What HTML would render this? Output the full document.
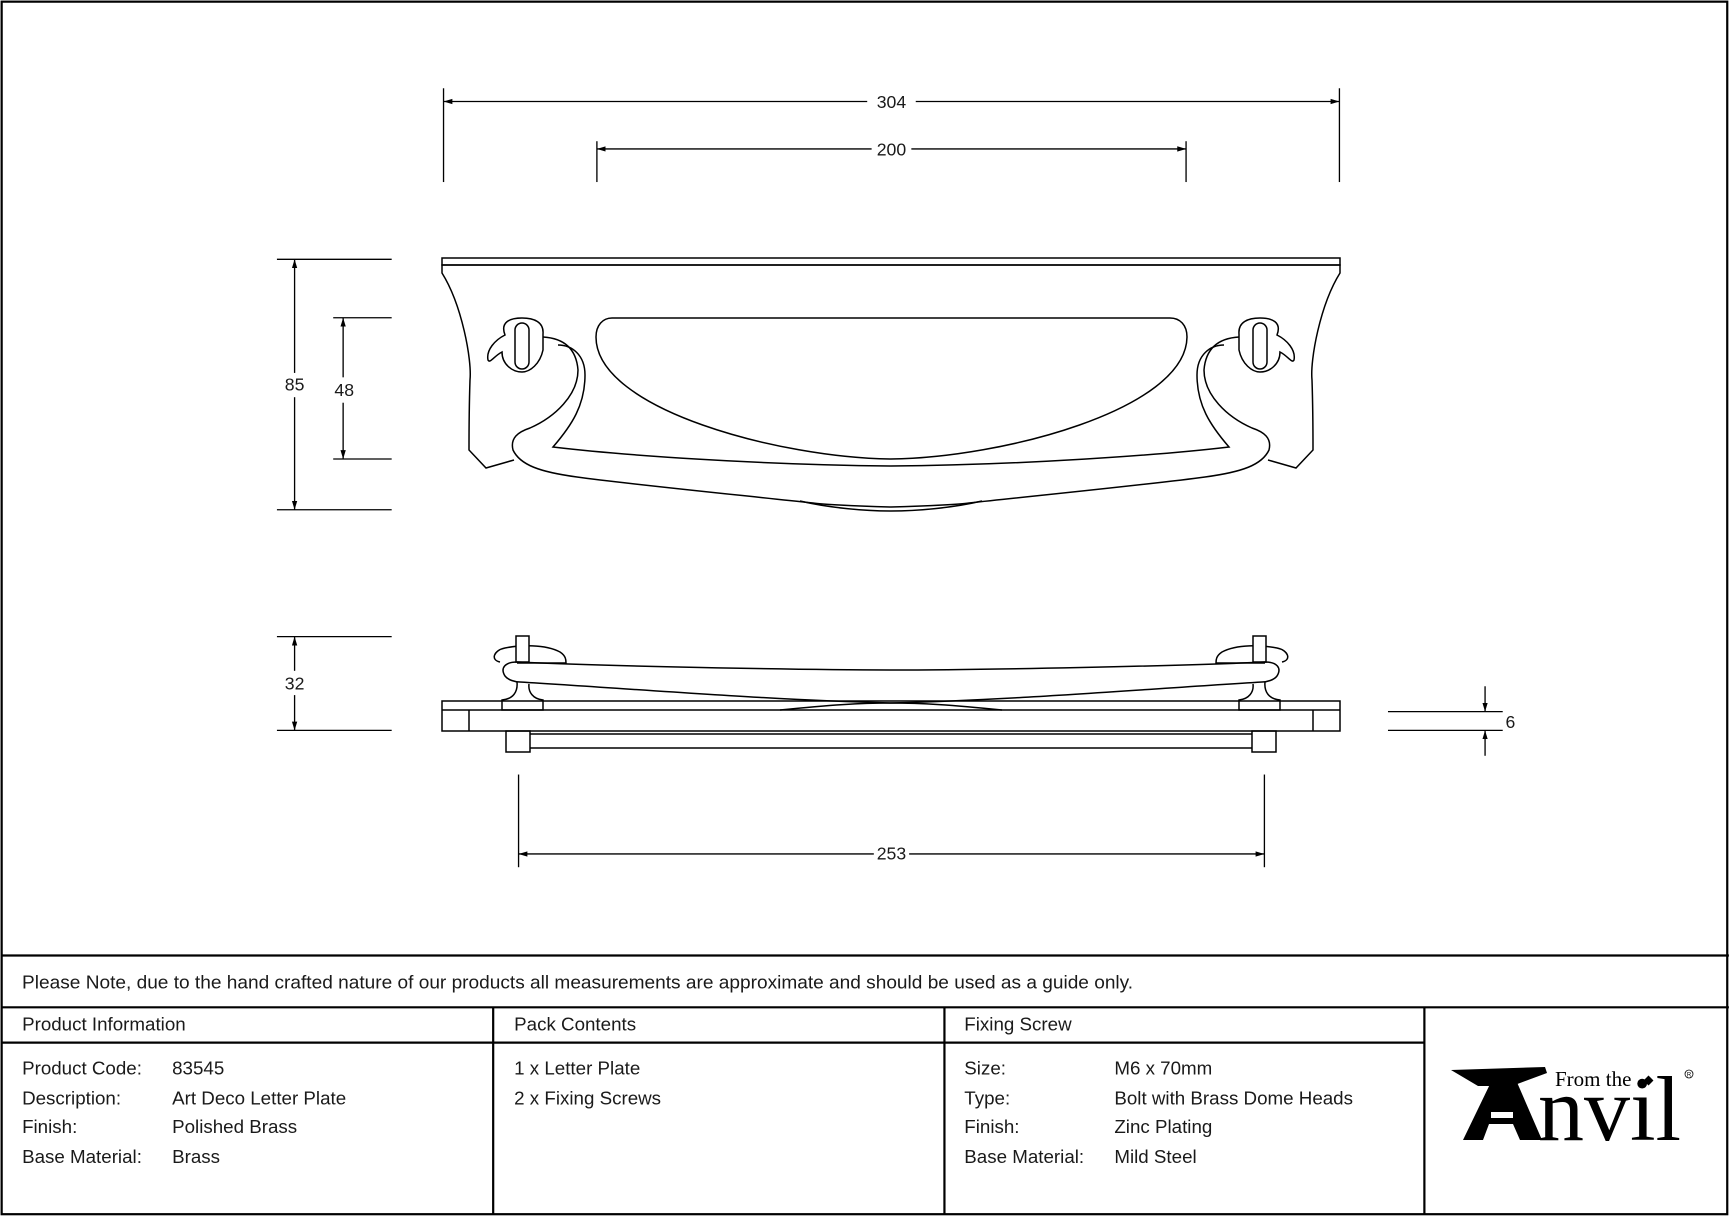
<!DOCTYPE html>
<html><head><meta charset="utf-8"><style>
html,body{margin:0;padding:0;background:#fff;}
svg{display:block;}
text{font-family:"Liberation Sans",sans-serif;fill:#1a1a1a;}
</style></head><body>
<svg width="1730" height="1217" viewBox="0 0 1730 1217" xmlns="http://www.w3.org/2000/svg">
<defs>
<marker id="ar" viewBox="0 0 10 10" refX="10" refY="5" markerWidth="8" markerHeight="8" orient="auto-start-reverse" markerUnits="userSpaceOnUse"><path d="M0,2 L10,5 L0,8 z" fill="#000"/></marker>
</defs>
<rect width="1730" height="1217" fill="#fff"/>
<g transform="scale(1.10332)" stroke="#000" fill="none" stroke-width="1.2">
 <rect x="1.5" y="1.5" width="1564" height="1099" stroke-width="2"/>
 <line x1="1" y1="866" x2="1567" y2="866" stroke-width="2"/>
 <line x1="1" y1="913" x2="1567" y2="913" stroke-width="2"/>
 <line x1="1" y1="945" x2="1291" y2="945" stroke-width="2"/>
 <line x1="447" y1="913" x2="447" y2="1101" stroke-width="2"/>
 <line x1="856" y1="913" x2="856" y2="1101" stroke-width="2"/>
 <line x1="1291" y1="913" x2="1291" y2="1101" stroke-width="2"/>
 <line x1="402" y1="80" x2="402" y2="165"/><line x1="1214" y1="80" x2="1214" y2="165"/>
 <line x1="402" y1="92" x2="786" y2="92" marker-start="url(#ar)"/><line x1="830" y1="92" x2="1214" y2="92" marker-end="url(#ar)"/>
 <line x1="541" y1="128" x2="541" y2="165"/><line x1="1075" y1="128" x2="1075" y2="165"/>
 <line x1="541" y1="135" x2="790" y2="135" marker-start="url(#ar)"/><line x1="826" y1="135" x2="1075" y2="135" marker-end="url(#ar)"/>
 <line x1="251" y1="235" x2="355" y2="235"/><line x1="251" y1="462" x2="355" y2="462"/>
 <line x1="267" y1="235" x2="267" y2="338" marker-start="url(#ar)"/><line x1="267" y1="360" x2="267" y2="462" marker-end="url(#ar)"/>
 <line x1="302" y1="288" x2="355" y2="288"/><line x1="302" y1="416" x2="355" y2="416"/>
 <line x1="311" y1="288" x2="311" y2="342" marker-start="url(#ar)"/><line x1="311" y1="365" x2="311" y2="416" marker-end="url(#ar)"/>
 <line x1="251" y1="577" x2="355" y2="577"/><line x1="251" y1="662" x2="355" y2="662"/>
 <line x1="267" y1="577" x2="267" y2="608" marker-start="url(#ar)"/><line x1="267" y1="630" x2="267" y2="662" marker-end="url(#ar)"/>
 <line x1="1258" y1="645" x2="1362" y2="645"/><line x1="1258" y1="662" x2="1362" y2="662"/>
 <line x1="1346" y1="622" x2="1346" y2="645" marker-end="url(#ar)"/><line x1="1346" y1="685" x2="1346" y2="662" marker-end="url(#ar)"/>
 <line x1="470" y1="702" x2="470" y2="786"/><line x1="1146" y1="702" x2="1146" y2="786"/>
 <line x1="470" y1="774" x2="792" y2="774" marker-start="url(#ar)"/><line x1="824" y1="774" x2="1146" y2="774" marker-end="url(#ar)"/>
</g>
<g transform="scale(1.10332)" font-size="16">
 <text x="808" y="98" text-anchor="middle">304</text>
 <text x="808" y="141" text-anchor="middle">200</text>
 <text x="267" y="354" text-anchor="middle">85</text>
 <text x="312" y="359" text-anchor="middle">48</text>
 <text x="267" y="625" text-anchor="middle">32</text>
 <text x="1369" y="660" text-anchor="middle">6</text>
 <text x="808" y="779" text-anchor="middle">253</text>
 <g font-size="17">
 <text x="20" y="896" textLength="1007" lengthAdjust="spacingAndGlyphs">Please Note, due to the hand crafted nature of our products all measurements are approximate and should be used as a guide only.</text>
 <text x="20" y="934">Product Information</text><text x="466" y="934">Pack Contents</text><text x="874" y="934">Fixing Screw</text>
 <text x="20" y="974">Product Code:</text><text x="156" y="974">83545</text>
 <text x="20" y="1001">Description:</text><text x="156" y="1001">Art Deco Letter Plate</text>
 <text x="20" y="1027">Finish:</text><text x="156" y="1027">Polished Brass</text>
 <text x="20" y="1054">Base Material:</text><text x="156" y="1054">Brass</text>
 <text x="466" y="974">1 x Letter Plate</text><text x="466" y="1001">2 x Fixing Screws</text>
 <text x="874" y="974">Size:</text><text x="1010" y="974">M6 x 70mm</text>
 <text x="874" y="1001">Type:</text><text x="1010" y="1001">Bolt with Brass Dome Heads</text>
 <text x="874" y="1027">Finish:</text><text x="1010" y="1027">Zinc Plating</text>
 <text x="874" y="1054">Base Material:</text><text x="1010" y="1054">Mild Steel</text>
 </g>
</g>
<g stroke="#000" fill="none" stroke-width="1.5">
 <rect x="442" y="258" width="898" height="7"/>
 <path id="lhalf" d="M891,265 L442,265 L442,273 C462,305 472,360 470,380 C469,410 469,440 469,450 L486,468 L514,460"/>
 <use href="#lhalf" transform="translate(1782,0) scale(-1,1)"/>
 <path d="M612,318 L1170,318 C1180,318 1187,325 1187,337 C1186,410 1000,458 891,459 C782,458 596,410 596,337 C596,325 603,318 612,318 Z"/>
 <g id="hook">
  <path d="M891,466 C760,465 620,455 553,447 C572,425 585,405 585,375 C585,355 572,345 558,345"/>
  <path d="M891,507 C850,506 820,504 813,503 C700,491 620,483 577,477 C540,472 520,465 513,450 C510,438 518,432 530,428 C555,417 578,395 578,370 C576,345 560,338 543,337"/>
  <path d="M800,501 C830,508 865,511 891,511"/>
  <path d="M505,335 C500,322 510,318 522,318 C534,318 544,322 543,334 L543,350 C540,364 530,372 522,372 C512,372 502,364 502,352 C494,356 490,364 488,360 C486,350 495,340 505,335 Z" fill="#fff"/>
  <rect x="515" y="323" width="14" height="46" rx="7" fill="#fff"/>
 </g>
 <use href="#hook" transform="translate(1782,0) scale(-1,1)"/>
 <rect x="442" y="701" width="898" height="30"/>
 <line x1="442" y1="710" x2="1340" y2="710"/>
 <line x1="469" y1="710" x2="469" y2="731"/><line x1="1313" y1="710" x2="1313" y2="731"/>
 <rect x="506" y="731" width="24" height="21"/><rect x="1252" y="731" width="24" height="21"/>
 <line x1="530" y1="734" x2="1252" y2="734"/><line x1="530" y1="748" x2="1252" y2="748"/>
 <g id="bolt">
  <path d="M500,662 C490,660 494,650 505,648 C520,645 545,644 560,652 C566,656 566,660 566,663 L517,663" fill="#fff"/>
  <rect x="516" y="636" width="13" height="26" fill="#fff"/>
  <path d="M891,670 C800,670 600,666 517,662 C505,662 500,668 505,676 C508,680 515,682 520,682 C650,690 770,700 891,703"/>
  <path d="M780,710 C830,705 860,703 891,703"/>
  <path d="M517,682 C518,692 513,699 502,700 L502,710 L543,710 L543,700 C533,699 528,692 529,684"/>
 </g>
 <use href="#bolt" transform="translate(1782,0) scale(-1,1)"/>
</g>
<g>
 <polygon points="1451,1070 1545,1067 1547,1073 1512,1086 1478,1086" fill="#000"/>
 <polygon points="1463,1140 1492,1080 1516,1080 1542,1140 1520,1140 1513,1124 1489,1124 1483,1140" fill="#000"/>
 <rect x="1491" y="1112" width="22" height="6" fill="#fff"/>
 <text x="1538" y="1140" font-size="92" style="font-family:'Liberation Serif',serif;fill:#000">nvil</text>
 <text x="1555" y="1086" style="font-family:'Liberation Serif',serif;fill:#000" font-size="21">From the</text>
 <rect x="1645" y="1077" width="7" height="7" transform="rotate(45 1648.5 1080.5)" fill="#000"/>
 <circle cx="1689" cy="1074" r="4" fill="none" stroke="#000" stroke-width="0.8"/>
 <text x="1689" y="1076.5" text-anchor="middle" font-size="6" style="fill:#000">R</text>
</g>
</svg>
</body></html>
